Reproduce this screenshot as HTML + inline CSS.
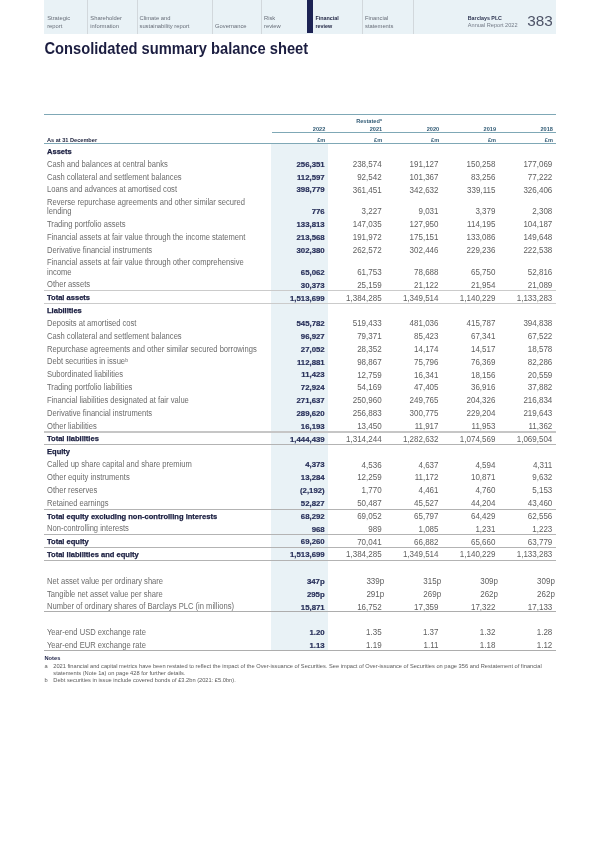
<!DOCTYPE html>
<html><head><meta charset="utf-8">
<style>
*{margin:0;padding:0;box-sizing:border-box}
html,body{width:600px;height:849px;background:#fff;overflow:hidden}
body{position:relative;will-change:transform;font-family:"Liberation Sans",Arial,sans-serif;color:#555}
.band{position:absolute;left:44px;top:0;width:511.5px;height:33.6px;background:#e9f2f6}
.tab{position:absolute;top:0;height:33.3px;font-size:5.8px;line-height:7.6px;color:#676d78;padding-top:15.3px;white-space:nowrap}
.vd{position:absolute;top:0;width:1px;height:34px;background:#d2d8dc}
.navy{position:absolute;left:307px;top:0;width:5.5px;height:33.3px;background:#1c2354}
.brand{position:absolute;left:467.8px;top:14.6px;font-size:5.6px;line-height:7.2px;color:#737a86;white-space:nowrap}
.brand b{color:#2e3552;font-size:5.3px}
.pg{position:absolute;left:527.3px;top:10.9px;font-size:15.3px;line-height:20px;color:#4d5367}
h1{position:absolute;left:44.5px;top:38.8px;font-size:14.7px;line-height:20px;font-weight:bold;color:#1b1d40;white-space:nowrap;transform:scaleY(1.07);transform-origin:0 15.1px}
.hl{position:absolute;left:271.3px;top:143.8px;width:56.7px;height:506.7px;background:#e9f2f6}
.tl{position:absolute;height:1px;background:#7fa8b6}
.th.asat{color:#232842}
.hr{position:absolute;left:44px;width:512px;height:1px;background:#a9a9a9}
.th{position:absolute;font-size:5.6px;line-height:10px;font-weight:bold;color:#335c76;white-space:nowrap}
.th sup{font-size:3.6px;vertical-align:2.5px}
.th.rr{text-align:right}
.l,.lb,.n,.nb{position:absolute;line-height:10px;white-space:nowrap}
.l{font-size:7.6px;color:#6c6c6c;transform:scaleY(1.13);transform-origin:0 7.63px}
.lb{font-size:7.55px;font-weight:bold;color:#1a1e40;-webkit-text-stroke:0.25px #1a1e40}
.n{font-size:8px;color:#606060;transform:scaleY(1.1);transform-origin:0 7.77px}
.nb{font-size:7.8px;font-weight:bold;color:#28305a;-webkit-text-stroke:0.2px #28305a}
sup{font-size:5.2px;vertical-align:2.4px;line-height:0;margin-left:0.2px}
.notes{position:absolute;left:44.5px;font-size:5.7px;line-height:7px;color:#5a5a5a;white-space:nowrap}
.notes b{color:#1f2348}
</style></head><body>
<div class="band"></div>
<div class="tab" style="left:47.2px">Strategic<br>report</div>
<div class="vd" style="left:87px"></div>
<div class="tab" style="left:90.3px">Shareholder<br>information</div>
<div class="vd" style="left:136.5px"></div>
<div class="tab" style="left:139.5px">Climate and<br>sustainability report</div>
<div class="vd" style="left:212px"></div>
<div class="tab" style="left:215px"><br>Governance</div>
<div class="vd" style="left:261px"></div>
<div class="tab" style="left:264px">Risk<br>review</div>
<div class="navy"></div>
<div class="tab" style="left:315.5px;font-weight:bold;color:#1f2442;font-size:5.4px">Financial<br>review</div>
<div class="vd" style="left:362px"></div>
<div class="tab" style="left:365px">Financial<br>statements</div>
<div class="vd" style="left:412.5px"></div>
<div class="brand"><b>Barclays PLC</b><br>Annual Report 2022</div>
<div class="pg">383</div>
<h1>Consolidated summary balance sheet</h1>

<div class="hl"></div>
<div class="tl" style="left:44px;width:512px;top:114px"></div>
<div class="tl" style="left:271.5px;width:284.5px;top:132px"></div>
<div class="tl" style="left:44px;width:512px;top:143px"></div>
<div class="lb" style="left:47.00px;top:146.83px">Assets</div>
<div class="l" style="left:47.00px;top:159.72px">Cash and balances at central banks</div>
<div class="nb rr" style="right:275.30px;top:159.95px">256,351</div>
<div class="n rr" style="right:218.40px;top:160.08px">238,574</div>
<div class="n rr" style="right:161.50px;top:160.08px">191,127</div>
<div class="n rr" style="right:104.60px;top:160.08px">150,258</div>
<div class="n rr" style="right:47.70px;top:160.08px">177,069</div>
<div class="l" style="left:47.00px;top:172.52px">Cash collateral and settlement balances</div>
<div class="nb rr" style="right:275.30px;top:172.75px">112,597</div>
<div class="n rr" style="right:218.40px;top:172.88px">92,542</div>
<div class="n rr" style="right:161.50px;top:172.88px">101,367</div>
<div class="n rr" style="right:104.60px;top:172.88px">83,256</div>
<div class="n rr" style="right:47.70px;top:172.88px">77,222</div>
<div class="l" style="left:47.00px;top:185.22px">Loans and advances at amortised cost</div>
<div class="nb rr" style="right:275.30px;top:185.45px">398,779</div>
<div class="n rr" style="right:218.40px;top:185.58px">361,451</div>
<div class="n rr" style="right:161.50px;top:185.58px">342,632</div>
<div class="n rr" style="right:104.60px;top:185.58px">339,115</div>
<div class="n rr" style="right:47.70px;top:185.58px">326,406</div>
<div class="l" style="left:47.00px;top:197.72px">Reverse repurchase agreements and other similar secured</div>
<div class="l" style="left:47.00px;top:207.02px">lending</div>
<div class="nb rr" style="right:275.30px;top:207.25px">776</div>
<div class="n rr" style="right:218.40px;top:207.38px">3,227</div>
<div class="n rr" style="right:161.50px;top:207.38px">9,031</div>
<div class="n rr" style="right:104.60px;top:207.38px">3,379</div>
<div class="n rr" style="right:47.70px;top:207.38px">2,308</div>
<div class="l" style="left:47.00px;top:220.02px">Trading portfolio assets</div>
<div class="nb rr" style="right:275.30px;top:220.25px">133,813</div>
<div class="n rr" style="right:218.40px;top:220.38px">147,035</div>
<div class="n rr" style="right:161.50px;top:220.38px">127,950</div>
<div class="n rr" style="right:104.60px;top:220.38px">114,195</div>
<div class="n rr" style="right:47.70px;top:220.38px">104,187</div>
<div class="l" style="left:47.00px;top:232.72px">Financial assets at fair value through the income statement</div>
<div class="nb rr" style="right:275.30px;top:232.95px">213,568</div>
<div class="n rr" style="right:218.40px;top:233.08px">191,972</div>
<div class="n rr" style="right:161.50px;top:233.08px">175,151</div>
<div class="n rr" style="right:104.60px;top:233.08px">133,086</div>
<div class="n rr" style="right:47.70px;top:233.08px">149,648</div>
<div class="l" style="left:47.00px;top:245.52px">Derivative financial instruments</div>
<div class="nb rr" style="right:275.30px;top:245.75px">302,380</div>
<div class="n rr" style="right:218.40px;top:245.88px">262,572</div>
<div class="n rr" style="right:161.50px;top:245.88px">302,446</div>
<div class="n rr" style="right:104.60px;top:245.88px">229,236</div>
<div class="n rr" style="right:47.70px;top:245.88px">222,538</div>
<div class="l" style="left:47.00px;top:258.12px">Financial assets at fair value through other comprehensive</div>
<div class="l" style="left:47.00px;top:267.52px">income</div>
<div class="nb rr" style="right:275.30px;top:267.75px">65,062</div>
<div class="n rr" style="right:218.40px;top:267.88px">61,753</div>
<div class="n rr" style="right:161.50px;top:267.88px">78,688</div>
<div class="n rr" style="right:104.60px;top:267.88px">65,750</div>
<div class="n rr" style="right:47.70px;top:267.88px">52,816</div>
<div class="l" style="left:47.00px;top:280.42px">Other assets</div>
<div class="nb rr" style="right:275.30px;top:280.65px">30,373</div>
<div class="n rr" style="right:218.40px;top:280.78px">25,159</div>
<div class="n rr" style="right:161.50px;top:280.78px">21,122</div>
<div class="n rr" style="right:104.60px;top:280.78px">21,954</div>
<div class="n rr" style="right:47.70px;top:280.78px">21,089</div>
<div class="lb" style="left:47.00px;top:293.33px">Total assets</div>
<div class="nb rr" style="right:275.30px;top:293.55px">1,513,699</div>
<div class="n rr" style="right:218.40px;top:293.68px">1,384,285</div>
<div class="n rr" style="right:161.50px;top:293.68px">1,349,514</div>
<div class="n rr" style="right:104.60px;top:293.68px">1,140,229</div>
<div class="n rr" style="right:47.70px;top:293.68px">1,133,283</div>
<div class="lb" style="left:47.00px;top:306.03px">Liabilities</div>
<div class="l" style="left:47.00px;top:319.02px">Deposits at amortised cost</div>
<div class="nb rr" style="right:275.30px;top:319.25px">545,782</div>
<div class="n rr" style="right:218.40px;top:319.38px">519,433</div>
<div class="n rr" style="right:161.50px;top:319.38px">481,036</div>
<div class="n rr" style="right:104.60px;top:319.38px">415,787</div>
<div class="n rr" style="right:47.70px;top:319.38px">394,838</div>
<div class="l" style="left:47.00px;top:331.82px">Cash collateral and settlement balances</div>
<div class="nb rr" style="right:275.30px;top:332.05px">96,927</div>
<div class="n rr" style="right:218.40px;top:332.18px">79,371</div>
<div class="n rr" style="right:161.50px;top:332.18px">85,423</div>
<div class="n rr" style="right:104.60px;top:332.18px">67,341</div>
<div class="n rr" style="right:47.70px;top:332.18px">67,522</div>
<div class="l" style="left:47.00px;top:344.62px">Repurchase agreements and other similar secured borrowings</div>
<div class="nb rr" style="right:275.30px;top:344.85px">27,052</div>
<div class="n rr" style="right:218.40px;top:344.98px">28,352</div>
<div class="n rr" style="right:161.50px;top:344.98px">14,174</div>
<div class="n rr" style="right:104.60px;top:344.98px">14,517</div>
<div class="n rr" style="right:47.70px;top:344.98px">18,578</div>
<div class="l" style="left:47.00px;top:357.42px">Debt securities in issue<sup>b</sup></div>
<div class="nb rr" style="right:275.30px;top:357.65px">112,881</div>
<div class="n rr" style="right:218.40px;top:357.78px">98,867</div>
<div class="n rr" style="right:161.50px;top:357.78px">75,796</div>
<div class="n rr" style="right:104.60px;top:357.78px">76,369</div>
<div class="n rr" style="right:47.70px;top:357.78px">82,286</div>
<div class="l" style="left:47.00px;top:370.22px">Subordinated liabilities</div>
<div class="nb rr" style="right:275.30px;top:370.45px">11,423</div>
<div class="n rr" style="right:218.40px;top:370.58px">12,759</div>
<div class="n rr" style="right:161.50px;top:370.58px">16,341</div>
<div class="n rr" style="right:104.60px;top:370.58px">18,156</div>
<div class="n rr" style="right:47.70px;top:370.58px">20,559</div>
<div class="l" style="left:47.00px;top:383.02px">Trading portfolio liabilities</div>
<div class="nb rr" style="right:275.30px;top:383.25px">72,924</div>
<div class="n rr" style="right:218.40px;top:383.38px">54,169</div>
<div class="n rr" style="right:161.50px;top:383.38px">47,405</div>
<div class="n rr" style="right:104.60px;top:383.38px">36,916</div>
<div class="n rr" style="right:47.70px;top:383.38px">37,882</div>
<div class="l" style="left:47.00px;top:395.82px">Financial liabilities designated at fair value</div>
<div class="nb rr" style="right:275.30px;top:396.05px">271,637</div>
<div class="n rr" style="right:218.40px;top:396.18px">250,960</div>
<div class="n rr" style="right:161.50px;top:396.18px">249,765</div>
<div class="n rr" style="right:104.60px;top:396.18px">204,326</div>
<div class="n rr" style="right:47.70px;top:396.18px">216,834</div>
<div class="l" style="left:47.00px;top:408.62px">Derivative financial instruments</div>
<div class="nb rr" style="right:275.30px;top:408.85px">289,620</div>
<div class="n rr" style="right:218.40px;top:408.98px">256,883</div>
<div class="n rr" style="right:161.50px;top:408.98px">300,775</div>
<div class="n rr" style="right:104.60px;top:408.98px">229,204</div>
<div class="n rr" style="right:47.70px;top:408.98px">219,643</div>
<div class="l" style="left:47.00px;top:421.52px">Other liabilities</div>
<div class="nb rr" style="right:275.30px;top:421.75px">16,193</div>
<div class="n rr" style="right:218.40px;top:421.88px">13,450</div>
<div class="n rr" style="right:161.50px;top:421.88px">11,917</div>
<div class="n rr" style="right:104.60px;top:421.88px">11,953</div>
<div class="n rr" style="right:47.70px;top:421.88px">11,362</div>
<div class="lb" style="left:47.00px;top:434.43px">Total liabilities</div>
<div class="nb rr" style="right:275.30px;top:434.65px">1,444,439</div>
<div class="n rr" style="right:218.40px;top:434.78px">1,314,244</div>
<div class="n rr" style="right:161.50px;top:434.78px">1,282,632</div>
<div class="n rr" style="right:104.60px;top:434.78px">1,074,569</div>
<div class="n rr" style="right:47.70px;top:434.78px">1,069,504</div>
<div class="lb" style="left:47.00px;top:447.23px">Equity</div>
<div class="l" style="left:47.00px;top:460.22px">Called up share capital and share premium</div>
<div class="nb rr" style="right:275.30px;top:460.45px">4,373</div>
<div class="n rr" style="right:218.40px;top:460.58px">4,536</div>
<div class="n rr" style="right:161.50px;top:460.58px">4,637</div>
<div class="n rr" style="right:104.60px;top:460.58px">4,594</div>
<div class="n rr" style="right:47.70px;top:460.58px">4,311</div>
<div class="l" style="left:47.00px;top:473.02px">Other equity instruments</div>
<div class="nb rr" style="right:275.30px;top:473.25px">13,284</div>
<div class="n rr" style="right:218.40px;top:473.38px">12,259</div>
<div class="n rr" style="right:161.50px;top:473.38px">11,172</div>
<div class="n rr" style="right:104.60px;top:473.38px">10,871</div>
<div class="n rr" style="right:47.70px;top:473.38px">9,632</div>
<div class="l" style="left:47.00px;top:485.82px">Other reserves</div>
<div class="nb rr" style="right:275.30px;top:486.05px">(2,192)</div>
<div class="n rr" style="right:218.40px;top:486.18px">1,770</div>
<div class="n rr" style="right:161.50px;top:486.18px">4,461</div>
<div class="n rr" style="right:104.60px;top:486.18px">4,760</div>
<div class="n rr" style="right:47.70px;top:486.18px">5,153</div>
<div class="l" style="left:47.00px;top:498.62px">Retained earnings</div>
<div class="nb rr" style="right:275.30px;top:498.85px">52,827</div>
<div class="n rr" style="right:218.40px;top:498.98px">50,487</div>
<div class="n rr" style="right:161.50px;top:498.98px">45,527</div>
<div class="n rr" style="right:104.60px;top:498.98px">44,204</div>
<div class="n rr" style="right:47.70px;top:498.98px">43,460</div>
<div class="lb" style="left:47.00px;top:511.63px">Total equity excluding non-controlling interests</div>
<div class="nb rr" style="right:275.30px;top:511.85px">68,292</div>
<div class="n rr" style="right:218.40px;top:511.98px">69,052</div>
<div class="n rr" style="right:161.50px;top:511.98px">65,797</div>
<div class="n rr" style="right:104.60px;top:511.98px">64,429</div>
<div class="n rr" style="right:47.70px;top:511.98px">62,556</div>
<div class="l" style="left:47.00px;top:524.42px">Non-controlling interests</div>
<div class="nb rr" style="right:275.30px;top:524.65px">968</div>
<div class="n rr" style="right:218.40px;top:524.78px">989</div>
<div class="n rr" style="right:161.50px;top:524.78px">1,085</div>
<div class="n rr" style="right:104.60px;top:524.78px">1,231</div>
<div class="n rr" style="right:47.70px;top:524.78px">1,223</div>
<div class="lb" style="left:47.00px;top:537.23px">Total equity</div>
<div class="nb rr" style="right:275.30px;top:537.45px">69,260</div>
<div class="n rr" style="right:218.40px;top:537.58px">70,041</div>
<div class="n rr" style="right:161.50px;top:537.58px">66,882</div>
<div class="n rr" style="right:104.60px;top:537.58px">65,660</div>
<div class="n rr" style="right:47.70px;top:537.58px">63,779</div>
<div class="lb" style="left:47.00px;top:550.13px">Total liabilities and equity</div>
<div class="nb rr" style="right:275.30px;top:550.35px">1,513,699</div>
<div class="n rr" style="right:218.40px;top:550.48px">1,384,285</div>
<div class="n rr" style="right:161.50px;top:550.48px">1,349,514</div>
<div class="n rr" style="right:104.60px;top:550.48px">1,140,229</div>
<div class="n rr" style="right:47.70px;top:550.48px">1,133,283</div>
<div class="l" style="left:47.00px;top:576.82px">Net asset value per ordinary share</div>
<div class="nb rr" style="right:275.30px;top:577.05px">347p</div>
<div class="n rr" style="right:215.80px;top:577.18px">339p</div>
<div class="n rr" style="right:158.90px;top:577.18px">315p</div>
<div class="n rr" style="right:102.00px;top:577.18px">309p</div>
<div class="n rr" style="right:45.10px;top:577.18px">309p</div>
<div class="l" style="left:47.00px;top:589.62px">Tangible net asset value per share</div>
<div class="nb rr" style="right:275.30px;top:589.85px">295p</div>
<div class="n rr" style="right:215.80px;top:589.98px">291p</div>
<div class="n rr" style="right:158.90px;top:589.98px">269p</div>
<div class="n rr" style="right:102.00px;top:589.98px">262p</div>
<div class="n rr" style="right:45.10px;top:589.98px">262p</div>
<div class="l" style="left:47.00px;top:602.42px">Number of ordinary shares of Barclays PLC (in millions)</div>
<div class="nb rr" style="right:275.30px;top:602.65px">15,871</div>
<div class="n rr" style="right:218.40px;top:602.78px">16,752</div>
<div class="n rr" style="right:161.50px;top:602.78px">17,359</div>
<div class="n rr" style="right:104.60px;top:602.78px">17,322</div>
<div class="n rr" style="right:47.70px;top:602.78px">17,133</div>
<div class="l" style="left:47.00px;top:628.02px">Year-end USD exchange rate</div>
<div class="nb rr" style="right:275.30px;top:628.25px">1.20</div>
<div class="n rr" style="right:218.40px;top:628.38px">1.35</div>
<div class="n rr" style="right:161.50px;top:628.38px">1.37</div>
<div class="n rr" style="right:104.60px;top:628.38px">1.32</div>
<div class="n rr" style="right:47.70px;top:628.38px">1.28</div>
<div class="l" style="left:47.00px;top:640.82px">Year-end EUR exchange rate</div>
<div class="nb rr" style="right:275.30px;top:641.05px">1.13</div>
<div class="n rr" style="right:218.40px;top:641.18px">1.19</div>
<div class="n rr" style="right:161.50px;top:641.18px">1.11</div>
<div class="n rr" style="right:104.60px;top:641.18px">1.18</div>
<div class="n rr" style="right:47.70px;top:641.18px">1.12</div>
<div class="hr" style="top:290.10px;height:1px;background:#cbcbcb"></div>
<div class="hr" style="top:302.80px;height:1px;background:#cbcbcb"></div>
<div class="hr" style="top:431.00px;height:2px;background:#c6c6c6"></div>
<div class="hr" style="top:444.20px;height:1px;background:#b3b3b3"></div>
<div class="hr" style="top:508.80px;height:1px;background:#b3b3b3"></div>
<div class="hr" style="top:534.20px;height:1px;background:#b3b3b3"></div>
<div class="hr" style="top:546.90px;height:1px;background:#b3b3b3"></div>
<div class="hr" style="top:560.10px;height:1px;background:#b3b3b3"></div>
<div class="hr" style="top:611.40px;height:1px;background:#adadad"></div>
<div class="hr" style="top:649.90px;height:1px;background:#adadad"></div>
<div class="th" style="left:356.20px;top:116.11px">Restated<sup>a</sup></div>
<div class="th rr" style="right:274.70px;top:123.61px">2022</div>
<div class="th rr" style="right:274.70px;top:134.61px">£m</div>
<div class="th rr" style="right:217.80px;top:123.61px">2021</div>
<div class="th rr" style="right:217.80px;top:134.61px">£m</div>
<div class="th rr" style="right:160.90px;top:123.61px">2020</div>
<div class="th rr" style="right:160.90px;top:134.61px">£m</div>
<div class="th rr" style="right:104.00px;top:123.61px">2019</div>
<div class="th rr" style="right:104.00px;top:134.61px">£m</div>
<div class="th rr" style="right:47.10px;top:123.61px">2018</div>
<div class="th rr" style="right:47.10px;top:134.61px">£m</div>
<div class="th asat" style="left:47.00px;top:134.61px">As at 31 December</div>
<div class="notes" style="top:655px"><b>Notes</b></div>
<div class="notes" style="top:662.5px">a<span style="position:absolute;left:8.8px">2021 financial and capital metrics have been restated to reflect the impact of the Over-issuance of Securities. See impact of Over-issuance of Securities on page 356 and Restatement of financial<br>statements (Note 1a) on page 428 for further details.</span></div>
<div class="notes" style="top:676.5px">b<span style="position:absolute;left:8.8px">Debt securities in issue include covered bonds of £3.2bn (2021: £5.0bn).</span></div>
</body></html>
